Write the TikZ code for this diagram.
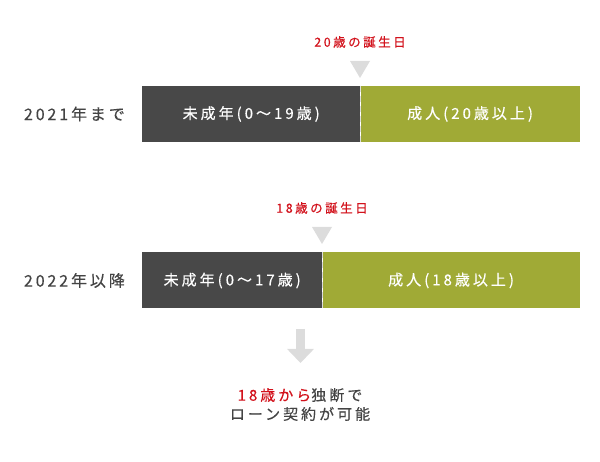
\documentclass[tikz,border=0pt]{standalone}
\usepackage{fontspec}
\setmainfont{Noto Sans CJK JP}[FakeBold=0.4]
\newfontfamily\spaced[LetterSpace=20, FakeBold=0.4]{Noto Sans CJK JP}
\newfontfamily\wider[LetterSpace=18, FakeBold=0.4]{Noto Sans CJK JP}
\usetikzlibrary{positioning, arrows.meta}
\definecolor{minorgray}{HTML}{484848}
\definecolor{adultgreen}{HTML}{A0AA36}
\definecolor{notered}{HTML}{D2121C}
\definecolor{markgray}{HTML}{DCDCDC}
\definecolor{textgray}{HTML}{444444}

\begin{document}
\begin{tikzpicture}[
  x=1pt, y=1pt,
  node distance=17pt,
  bar/.style={minimum height=56pt, inner sep=0pt, text=white,
    font=\spaced\fontsize{15}{15}\selectfont},
  minor/.style={bar, fill=minorgray},
  adult/.style={bar, fill=adultgreen},
  year/.style={text=textgray, inner sep=0pt, font=\wider\fontsize{16}{16}\selectfont},
  bday/.style={text=notered, inner sep=0pt, font=\spaced\fontsize{12.5}{12.5}\selectfont},
  divider/.style={draw=markgray, line width=1.5pt, dash pattern=on 6pt off 4pt},
  bigarrow/.style={draw=markgray, line width=9pt, -{Triangle[width=26pt, length=14pt]}}
]
  \useasboundingbox (0,0) rectangle (600,461);

  % until 2021
  \node[minor, minimum width=218pt, anchor=west] (minor1) at (142,347) {未成年(0〜19歳)};
  \node[adult, minimum width=219pt, right=0pt of minor1] (adult1) {成人(20歳以上)};
  \node[year, left=of minor1] (year1) {2021年まで};
  \node[bday] (bday1) at (360,419) {20歳の誕生日};
  \fill[markgray] (350,400) -- (370,400) -- (360,383) -- cycle;
  \draw[divider] (minor1.north east) -- (minor1.south east);

  % from 2022
  \node[minor, minimum width=180pt, anchor=west] (minor2) at (142,180.5) {未成年(0〜17歳)};
  \node[adult, minimum width=257pt, right=0pt of minor2] (adult2) {成人(18歳以上)};
  \node[year, left=of minor2] (year2) {2022年以降};
  \node[bday] (bday2) at (322,253) {18歳の誕生日};
  \fill[markgray] (312,234) -- (332,234) -- (322,217) -- cycle;
  \draw[divider] (minor2.north east) -- (minor2.south east);

  % result
  \coordinate (arrowtop) at (300.5,132);
  \coordinate (arrowtip) at (300.5,98);
  \draw[bigarrow] (arrowtop) -- (arrowtip);
  \node[text=textgray, align=center, inner sep=0pt,
    font=\spaced\fontsize{15}{19}\selectfont] (note) at (300,56.5)
    {{\color{notered}18歳から}独断で\\ローン契約が可能};
\end{tikzpicture}
\end{document}
